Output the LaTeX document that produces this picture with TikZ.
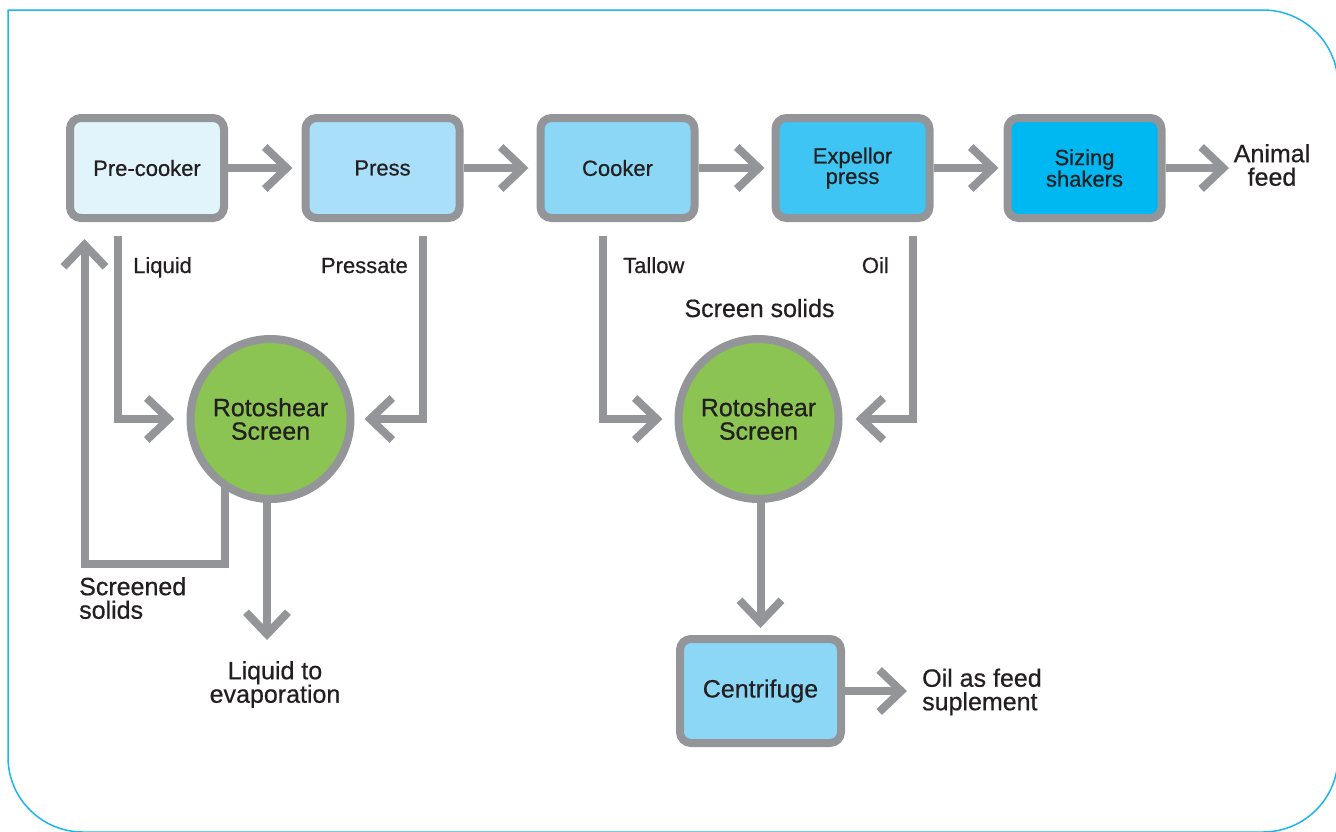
\documentclass[tikz,border=0pt]{standalone}
\usepackage{fontspec}
\setmainfont{Liberation Sans}[FakeBold=0.6]
\usetikzlibrary{arrows.meta}
\definecolor{lgray}{HTML}{939598}
\definecolor{txt}{HTML}{231F20}
\definecolor{frame}{HTML}{1CB5EC}
\definecolor{cA}{HTML}{E1F3FB}
\definecolor{cB}{HTML}{A9DFF8}
\definecolor{cC}{HTML}{8DD7F6}
\definecolor{cD}{HTML}{3EC5F3}
\definecolor{cE}{HTML}{00B8F1}
\definecolor{green}{HTML}{8BC453}
\newcommand{\smallfnt}{\fontsize{22}{20.5}\selectfont}
\newcommand{\bigfnt}{\fontsize{25}{23.5}\selectfont}
\tikzset{
  procbox/.style={draw=lgray, line width=8pt, outer sep=4pt, rounded corners=11pt,
    minimum width=154pt, minimum height=100pt, inner sep=0pt, align=center,
    font=\smallfnt, text=txt},
  rotnode/.style={circle, draw=lgray, line width=8pt, outer sep=4pt, fill=green,
    minimum size=160pt, inner sep=0pt, align=center, font=\bigfnt, text=txt},
  flow/.style={draw=lgray, line width=8pt,
    -{Straight Barb[length=22pt, width=42pt, line cap=butt, line join=miter]}},
  lbl/.style={inner sep=0pt, font=\smallfnt, text=txt},
  biglbl/.style={inner sep=0pt, font=\bigfnt, text=txt},
}
\begin{document}
\begin{tikzpicture}[x=1pt, y=-1pt]
\useasboundingbox (0,0) rectangle (1336,831);
\clip (0,0) rectangle (1336,831);
\draw[frame, line width=1.5pt] (8,10) -- (1263,10)
  arc[start angle=90, end angle=0, radius=75pt] -- (1338,757)
  arc[start angle=0, end angle=-90, radius=75pt] -- (83,832)
  arc[start angle=270, end angle=180, radius=75pt] -- cycle;

% process boxes
\node[procbox, fill=cA] (pre) at (147,168) {Pre-cooker};
\node[procbox, fill=cB] (press) at (382.5,168) {Press};
\node[procbox, fill=cC] (cook) at (617.5,168) {Cooker};
\node[procbox, fill=cD] (exp) at (852.5,168) {Expellor\\press};
\node[procbox, fill=cE] (size) at (1084.5,168) {Sizing\\shakers};
\node[biglbl, align=center] (feed) at (1272,165) {Animal\\feed};

\node[rotnode] (rs1) at (270.5,419) {Rotoshear\\Screen};
\node[rotnode] (rs2) at (758.5,419) {Rotoshear\\Screen};
\node[procbox, fill=cC, minimum width=161pt, minimum height=104pt, font=\bigfnt] (cent) at (760.5,691) {Centrifuge};

% coordinates for free ends
\coordinate (feedtip) at (1229,168);
\coordinate (liq0) at (117.5,236);
\coordinate (pr0) at (423,236);
\coordinate (tal0) at (603,236);
\coordinate (oil0) at (913,236);
\coordinate (lp1) at (84.5,564);
\coordinate (ev) at (267,640);
\coordinate (oiltip) at (907,691);

% top row arrows
\draw[flow, shorten >=9pt] (pre) -- (press);
\draw[flow, shorten >=8pt] (press) -- (cook);
\draw[flow, shorten >=7pt] (cook) -- (exp);
\draw[flow, shorten >=5pt] (exp) -- (size);
\draw[flow] (size) -- (feedtip);

% side streams
\draw[flow, shorten >=12pt] (liq0) |- (rs1);
\draw[flow, shorten >=10pt] (pr0) |- (rs1);
\draw[flow, shorten >=12pt] (tal0) |- (rs2);
\draw[flow, shorten >=13pt] (oil0) |- (rs2);

% recycle loop
\draw[flow, shorten >=17pt] ([yshift=4pt]rs1.237) -- (rs1.237 |- lp1) -- (lp1) -- (lp1 |- pre.south);
\draw[flow] ([yshift=4pt]rs1.south -| ev) -- (ev);

\draw[flow, shorten >=7pt] ([yshift=4pt]rs2.south -| cent.north) -- (cent.north);
\draw[flow] (cent) -- (oiltip);

% labels
\node[lbl, anchor=base west] (tliq) at (133,273) {Liquid};
\node[lbl, anchor=base east] (tpres) at (408,273) {Pressate};
\node[lbl, anchor=base west] (ttal) at (623,273) {Tallow};
\node[lbl, anchor=base east] (toil) at (889,273) {Oil};
\node[biglbl, anchor=base] (tss) at (759.5,317) {Screen solids};
\node[biglbl, align=left, anchor=west] (tscr) at (79,598) {Screened\\solids};
\node[biglbl, align=center] (tevap) at (275,684.5) {Liquid to\\evaporation};
\node[biglbl, align=left, anchor=west] (toaf) at (922,692) {Oil as feed\\suplement};
\end{tikzpicture}
\end{document}
